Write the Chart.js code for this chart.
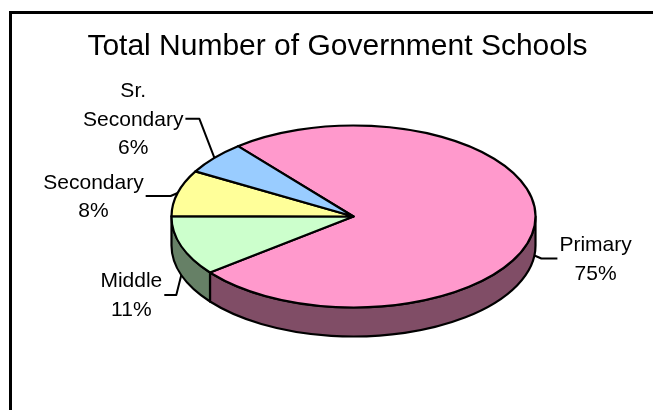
<!DOCTYPE html>
<html>
<head>
<meta charset="utf-8">
<script src="https://cdn.jsdelivr.net/npm/chart.js@4/dist/chart.umd.min.js"></script>
<style>
  html, body { margin: 0; padding: 0; background: #fff; overflow: hidden; }
</style>
</head>
<body>
<canvas id="schoolschart" width="653" height="410"></canvas>
<script>
const titleText = 'Total Number of Government Schools';
const categories = ['Primary', 'Middle', 'Secondary', 'Sr. Secondary'];
const shares = [75.4, 10.6, 8.2, 5.8];
const topColors = ['#FF99CC', '#CCFFCC', '#FFFF99', '#99CCFF'];
const sideColors = ['#804D66', '#668066', '#80804D', '#4D6680'];

// leader line elbows, relative to the slice edge
const leaders = [
  {ex: 7, ey: 3, len: 16},
  {ex: -5, ey: 20, len: -12},
  {ex: -7, ey: 3, len: -25},
  {ex: -15, ey: -39, len: -14}
];

const font = '"Liberation Sans", Arial, sans-serif';

const pie3d = {
  id: 'pie3d',
  beforeDraw(chart) {
    const c = chart.ctx;
    c.save();
    c.fillStyle = '#fff';
    c.fillRect(0, 0, chart.width, chart.height);
    c.strokeStyle = '#000';
    c.lineWidth = 3;
    c.strokeRect(10.5, 12.5, 700, 500);
    c.fillStyle = '#000';
    c.font = '30px ' + font;
    c.textAlign = 'center';
    c.textBaseline = 'alphabetic';
    c.fillText(titleText, 337.5, 55);
    c.restore();
  },
  beforeDatasetsDraw(chart, args, opts) {
    const arcs = chart.getDatasetMeta(0).data;
    const c = chart.ctx;
    const cx = arcs[0].x, cy = arcs[0].y, rx = arcs[0].outerRadius;
    const ry = rx * opts.tilt, d = opts.depth;
    const total = shares.reduce((a, b) => a + b, 0);

    c.save();
    c.strokeStyle = '#000';
    c.lineWidth = 2.2;
    c.lineJoin = 'round';

    // outer wall, front half only
    arcs.forEach((arc, i) => {
      for (let k = -1; k <= 2; k++) {
        const a0 = Math.max(arc.startAngle, k * 2 * Math.PI);
        const a1 = Math.min(arc.endAngle, k * 2 * Math.PI + Math.PI);
        if (a1 <= a0) continue;
        c.beginPath();
        c.ellipse(cx, cy, rx, ry, 0, a0, a1);
        c.lineTo(cx + rx * Math.cos(a1), cy + d + ry * Math.sin(a1));
        c.ellipse(cx, cy + d, rx, ry, 0, a1, a0, true);
        c.closePath();
        c.fillStyle = sideColors[i];
        c.fill();
        c.stroke();
      }
    });

    // top faces
    arcs.forEach((arc, i) => {
      c.beginPath();
      c.moveTo(cx, cy);
      c.ellipse(cx, cy, rx, ry, 0, arc.startAngle, arc.endAngle);
      c.closePath();
      c.fillStyle = topColors[i];
      c.fill();
      c.stroke();
    });

    // labels
    c.font = '21px ' + font;
    c.fillStyle = '#000';
    c.textAlign = 'center';
    c.textBaseline = 'middle';
    c.lineWidth = 2;
    arcs.forEach((arc, i) => {
      const m = (arc.startAngle + arc.endAngle) / 2;
      const ax = cx + rx * Math.cos(m);
      const ay = cy + ry * Math.sin(m) + (Math.sin(m) > 0 ? d : 0);
      const L = leaders[i];
      const bx = ax + L.ex, by = ay + L.ey, endX = bx + L.len;
      c.beginPath();
      c.moveTo(ax, ay);
      c.lineTo(bx, by);
      c.lineTo(endX, by);
      c.stroke();

      const lines = categories[i].split(' ');
      lines.push(Math.round(shares[i] / total * 100) + '%');
      const w = Math.max(...lines.map(t => c.measureText(t).width));
      const dir = Math.sign(L.len);
      const tx = endX + dir * (2 + w / 2);
      const lh = 28.5;
      lines.forEach((t, j) => {
        c.fillText(t, tx, by + 1 + (j - (lines.length - 1) / 2) * lh);
      });
    });
    c.restore();
    return false;
  }
};

new Chart(document.getElementById('schoolschart'), {
  type: 'pie',
  data: {
    labels: categories,
    datasets: [{
      data: shares,
      backgroundColor: topColors,
      borderWidth: 0
    }]
  },
  options: {
    responsive: false,
    animation: false,
    rotation: 320.6,
    radius: 182,
    layout: { padding: { left: 54, top: 23 } },
    plugins: {
      legend: { display: false },
      tooltip: { enabled: false },
      title: { display: false },
      pie3d: { tilt: 0.5, depth: 29 }
    }
  },
  plugins: [pie3d]
});
</script>
</body>
</html>
